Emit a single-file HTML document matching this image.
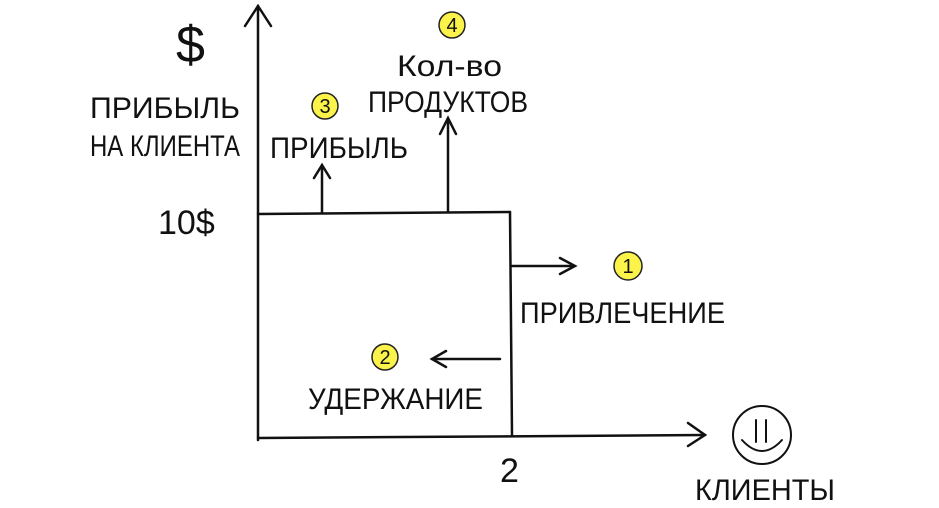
<!DOCTYPE html>
<html><head><meta charset="utf-8"><style>
body{margin:0;background:#fff;width:939px;height:503px;overflow:hidden}
svg text{font-family:"Liberation Sans","DejaVu Sans",sans-serif;fill:#111}
</style></head><body>
<svg width="939" height="503" viewBox="0 0 939 503" xmlns="http://www.w3.org/2000/svg">
<g stroke="#111" stroke-width="2.5" fill="none" stroke-linecap="round">
<path d="M258 440 L258 6"/><path d="M245 26 L258 6 L271 26"/>
<path d="M258 438 L705 435"/><path d="M688 423 L705 435 L688 446"/>
<path d="M258 214 L510 212"/><path d="M510 212 L512 435"/>
<path d="M322 212 L322 166"/><path d="M314 178 L322 165 L330 178"/>
<path d="M448 212 L448 120"/><path d="M440 134 L448 118 L456 134"/>
<path d="M512 266 L573 266"/><path d="M560 258 L575 266 L560 274"/>
<path d="M500 359 L432 359"/><path d="M446 351 L432 359 L446 367"/>
<circle cx="762" cy="435" r="29" stroke-width="2"/>
<path d="M756 420 L756 442 M766 420 L766 442" stroke-width="2"/>
<path d="M742 440 Q762 462 782 440" stroke-width="2"/>
</g>
<g fill="#fbf24a" stroke="#222" stroke-width="1.5">
<circle cx="325" cy="106" r="13"/><circle cx="452" cy="25" r="13"/>
<circle cx="628" cy="266" r="14"/><circle cx="385" cy="357" r="13"/>
</g>
<g font-size="20" text-anchor="middle">
<text x="325" y="113">3</text><text x="452" y="32">4</text>
<text x="628" y="273">1</text><text x="385" y="364">2</text>
</g>
<g font-size="30">
<text x="176" y="62" font-size="52">$</text>
<text x="90" y="118" textLength="150" lengthAdjust="spacingAndGlyphs">ПРИБЫЛЬ</text>
<text x="90" y="156" textLength="150" lengthAdjust="spacingAndGlyphs">НА КЛИЕНТА</text>
<text x="158" y="234" font-size="34">10$</text>
<text x="270" y="158" textLength="138" lengthAdjust="spacingAndGlyphs">ПРИБЫЛЬ</text>
<text x="397" y="76" textLength="105" lengthAdjust="spacingAndGlyphs">Кол-во</text>
<text x="368" y="112" textLength="160" lengthAdjust="spacingAndGlyphs">ПРОДУКТОВ</text>
<text x="520" y="323" textLength="205" lengthAdjust="spacingAndGlyphs">ПРИВЛЕЧЕНИЕ</text>
<text x="308" y="409" textLength="175" lengthAdjust="spacingAndGlyphs">УДЕРЖАНИЕ</text>
<text x="500" y="482" font-size="34">2</text>
<text x="695" y="500" textLength="140" lengthAdjust="spacingAndGlyphs">КЛИЕНТЫ</text>
</g>
</svg>
</body></html>
